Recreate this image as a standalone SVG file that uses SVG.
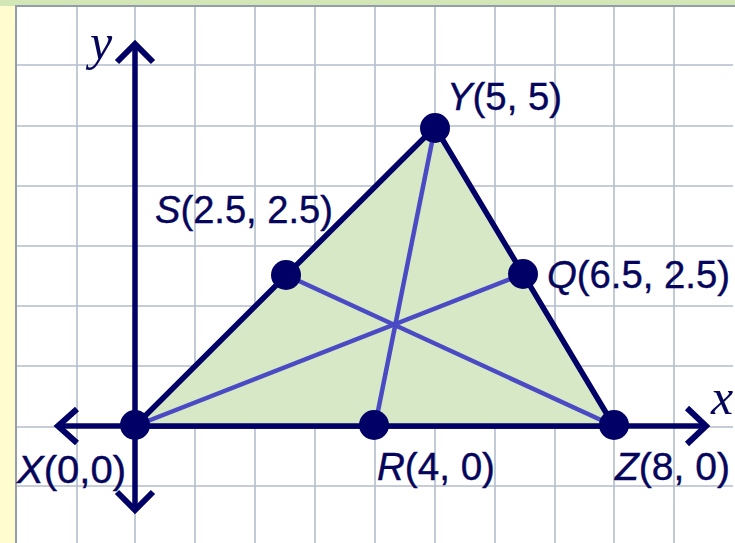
<svg xmlns="http://www.w3.org/2000/svg" width="735" height="543" viewBox="0 0 735 543">
<style>
.grid{stroke:#b3bdcc;stroke-width:1.6;fill:none}
.axis{stroke:#000066;stroke-width:5.5;fill:none}
.tri{stroke:#000066;stroke-width:5.5;fill:#d6e8c5;stroke-linejoin:round}
.med{stroke:#4a4ac4;stroke-width:4.5;fill:none}
.dot{fill:#000066}
.lbl{font-family:"Liberation Sans",Arial,sans-serif;font-size:38px;fill:#05055c;stroke:#05055c;stroke-width:0.4}
.var{font-family:"Liberation Serif","Times New Roman",serif;font-style:italic;font-size:50px;fill:#05055c}
</style>
<rect x="0" y="0" width="735" height="543" fill="#fffdd0"/>
<rect x="0" y="0" width="735" height="6" fill="#d3e6b6"/>
<rect x="16" y="6" width="730" height="545" fill="#ffffff" stroke="#939dab" stroke-width="2"/>
<g id="grid" class="grid">
<line x1="77" y1="7" x2="77" y2="543"/><line x1="195" y1="7" x2="195" y2="543"/><line x1="255" y1="7" x2="255" y2="543"/><line x1="315" y1="7" x2="315" y2="543"/><line x1="375" y1="7" x2="375" y2="543"/><line x1="435" y1="7" x2="435" y2="543"/><line x1="495" y1="7" x2="495" y2="543"/><line x1="555" y1="7" x2="555" y2="543"/><line x1="614" y1="7" x2="614" y2="543"/><line x1="674" y1="7" x2="674" y2="543"/><line x1="135" y1="7" x2="135" y2="543"/>
<line x1="17" y1="65" x2="733" y2="65"/><line x1="17" y1="126" x2="733" y2="126"/><line x1="17" y1="186" x2="733" y2="186"/><line x1="17" y1="246" x2="733" y2="246"/><line x1="17" y1="306" x2="733" y2="306"/><line x1="17" y1="366" x2="733" y2="366"/><line x1="17" y1="427" x2="733" y2="427"/><line x1="17" y1="486" x2="733" y2="486"/>
</g>
<g id="axes" class="axis">
<line x1="58" y1="426" x2="705" y2="426"/>
<polyline points="77,409 58,426 77,443" stroke-width="6"/>
<polyline points="687,408 706,426 687,444" stroke-width="6"/>
<line x1="135" y1="44" x2="135" y2="510"/>
<polyline points="117,62 135,44 153,62" stroke-width="6"/>
<polyline points="117,492 135,510 153,492" stroke-width="6"/>
</g>
<g id="triangle"><polygon class="tri" points="135,426 435,127 614,426"/></g>
<g id="medians" class="med">
<line x1="435" y1="127" x2="375" y2="426"/>
<line x1="286" y1="275" x2="614" y2="426"/>
<line x1="135" y1="426" x2="523" y2="274"/>
</g>
<g id="X"><circle class="dot" cx="135" cy="425" r="15"/><text class="lbl" x="17" y="483" textLength="109" lengthAdjust="spacingAndGlyphs"><tspan font-style="italic">X</tspan>(0,0)</text></g>
<g id="Y"><circle class="dot" cx="435" cy="128" r="15"/><text class="lbl" x="447" y="110" textLength="115" lengthAdjust="spacingAndGlyphs"><tspan font-style="italic">Y</tspan>(5, 5)</text></g>
<g id="Z"><circle class="dot" cx="614" cy="425" r="15"/><text class="lbl" x="615" y="480" textLength="115" lengthAdjust="spacingAndGlyphs"><tspan font-style="italic">Z</tspan>(8, 0)</text></g>
<g id="S"><circle class="dot" cx="286" cy="275" r="15"/><text class="lbl" x="155" y="223" textLength="178" lengthAdjust="spacingAndGlyphs"><tspan font-style="italic">S</tspan>(2.5, 2.5)</text></g>
<g id="Q"><circle class="dot" cx="523" cy="274" r="15"/><text class="lbl" x="547" y="288" textLength="183" lengthAdjust="spacingAndGlyphs"><tspan font-style="italic">Q</tspan>(6.5, 2.5)</text></g>
<g id="R"><circle class="dot" cx="374" cy="425" r="15"/><text class="lbl" x="377" y="480" textLength="118" lengthAdjust="spacingAndGlyphs"><tspan font-style="italic">R</tspan>(4, 0)</text></g>
<text class="var" x="90" y="59">y</text>
<text class="var" x="711" y="414">x</text>
</svg>
